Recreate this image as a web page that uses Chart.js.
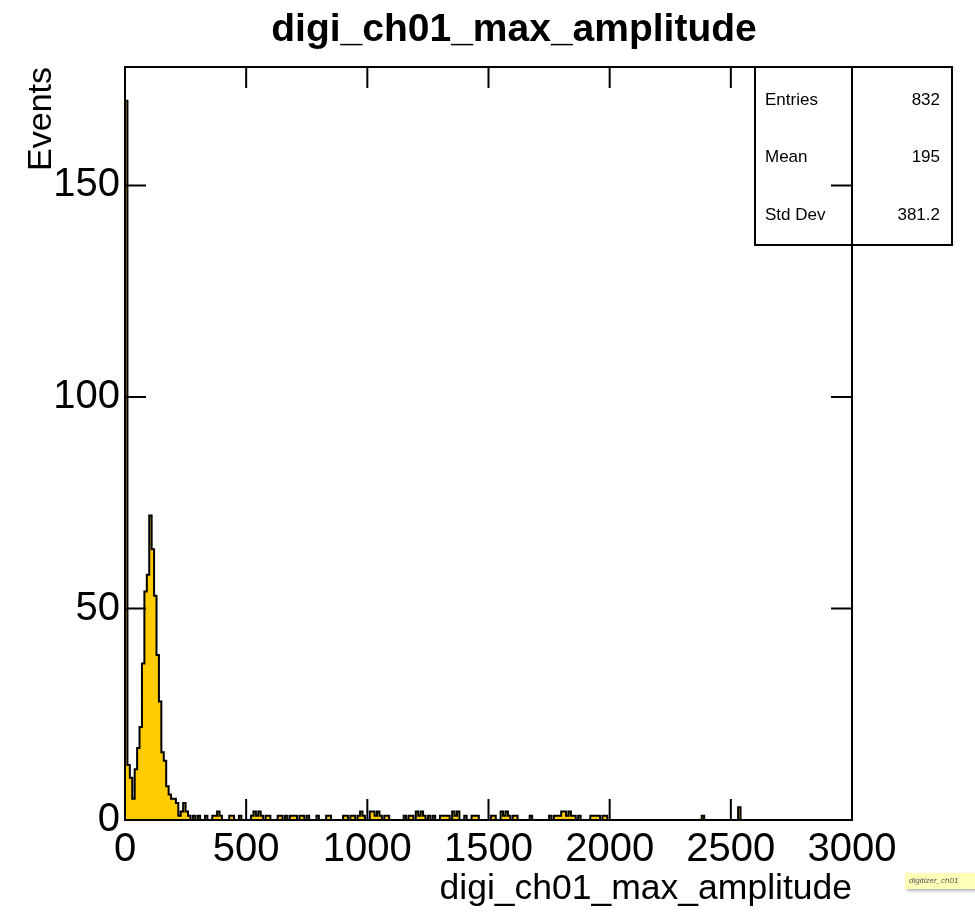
<!DOCTYPE html>
<html>
<head>
<meta charset="utf-8">
<title>digi_ch01_max_amplitude</title>
<script src="https://cdn.jsdelivr.net/npm/chart.js@4.4.1/dist/chart.umd.min.js"></script>
<style>
    html, body {
        margin: 0;
        padding: 0;
        background: #ffffff;
    }

    #wrap {
        position: relative;
        width: 975px;
        height: 914px;
    }

    #note {
        position: absolute;
        left: 905px;
        top: 873px;
        width: 70px;
        height: 16px;
        overflow: hidden;
        white-space: nowrap;
        background: #ffffb8;
        box-shadow: 2px 2px 3px rgba(0, 0, 0, 0.3);
        font: italic 8px "Liberation Sans", sans-serif;
        line-height: 16px;
        padding-left: 4px;
        box-sizing: border-box;
        color: #555;
    }
</style>
</head>
<body>

<div id="wrap">
    <canvas id="histChart" width="975" height="914"></canvas>
    <div id="note">digitizer_ch01</div>
</div>

<script>
// ===============================
// DATA
// ===============================

const chartTitle = "digi_ch01_max_amplitude";

const xAxisTitle = "digi_ch01_max_amplitude";

const yAxisTitle = "Events";

const binWidth = 10;

// events per bin, bins of 10 from 0 to 3000
const counts = [
    170, 13, 10, 5, 12, 17, 22, 37, 54, 58, 72, 64, 53, 39, 28, 16, 14, 8, 6, 5,
    5, 4, 1, 2, 4, 2, 1, 0, 1, 0, 1, 0, 0, 1, 0, 0, 1, 1, 2, 1,
    0, 0, 0, 1, 1, 0, 0, 1, 0, 0, 0, 0, 1, 2, 1, 2, 1, 0, 1, 1,
    0, 0, 0, 1, 1, 0, 1, 0, 1, 1, 1, 0, 1, 1, 0, 1, 0, 0, 0, 1,
    0, 0, 0, 1, 1, 0, 0, 0, 0, 0, 1, 1, 0, 1, 1, 0, 1, 2, 1, 0,
    0, 2, 2, 1, 2, 1, 0, 1, 1, 0, 0, 0, 0, 0, 0, 1, 0, 1, 1, 0,
    2, 1, 2, 1, 0, 1, 0, 1, 0, 0, 1, 1, 1, 1, 0, 2, 1, 2, 0, 0,
    1, 0, 0, 1, 1, 1, 0, 0, 0, 0, 0, 1, 1, 0, 0, 2, 1, 2, 1, 0,
    1, 1, 0, 0, 0, 0, 0, 1, 0, 0, 0, 0, 0, 0, 0, 1, 0, 1, 1, 1,
    2, 2, 1, 2, 1, 1, 0, 1, 0, 0, 0, 0, 1, 1, 1, 1, 0, 1, 1, 0,
    0, 0, 0, 0, 0, 0, 0, 0, 0, 0, 0, 0, 0, 0, 0, 0, 0, 0, 0, 0,
    0, 0, 0, 0, 0, 0, 0, 0, 0, 0, 0, 0, 0, 0, 0, 0, 0, 0, 1, 0,
    0, 0, 0, 0, 0, 0, 0, 0, 0, 0, 0, 0, 0, 3, 0, 0, 0, 0, 0, 0,
    0, 0, 0, 0, 0, 0, 0, 0, 0, 0, 0, 0, 0, 0, 0, 0, 0, 0, 0, 0,
    0, 0, 0, 0, 0, 0, 0, 0, 0, 0, 0, 0, 0, 0, 0, 0, 0, 0, 0, 0
];

const xTicks = [0, 500, 1000, 1500, 2000, 2500, 3000];

const yTicks = [0, 50, 100, 150];

const xMin = 0;
const xMax = 3000;
const yMax = 178;

const statLabels = ["Entries", "Mean", "Std Dev"];

const statValues = ["832", "195", "381.2"];

const FONT = "'Liberation Sans', Arial, Helvetica, sans-serif";

// =================================
// HISTOGRAM OUTLINE POINTS
// =================================

function buildSteps() {

    // left edge of each bin, stepped 'before' keeps the value to the next edge
    let points = [{ x: xMin, y: 0 }];

    counts.forEach((c, i) => {
        points.push({ x: xMin + i * binWidth, y: c });
    });

    points.push({ x: xMin + counts.length * binWidth, y: 0 });

    return points;
}

// =================================
// FRAME, TICKS, TITLE, STATS BOX
// =================================

const rootDecor = {

    id: "rootDecor",

    afterDatasetsDraw(chart) {

        const ctx = chart.ctx;
        const area = chart.chartArea;
        const xs = chart.scales.x;
        const ys = chart.scales.y;

        ctx.save();

        // stats box
        const boxL = area.right - 97;
        const boxR = area.right + 100;
        const boxT = area.top;
        const boxB = area.top + 178;

        ctx.fillStyle = "#ffffff";
        ctx.fillRect(boxL, boxT, boxR - boxL, boxB - boxT);

        ctx.fillStyle = "#000000";
        ctx.font = "17px " + FONT;
        ctx.textBaseline = "middle";

        statLabels.forEach((label, i) => {

            const y = boxT + 33 + i * 57.5;

            ctx.textAlign = "left";
            ctx.fillText(label, boxL + 10, y);

            ctx.textAlign = "right";
            ctx.fillText(statValues[i], boxR - 12, y);
        });

        // frame
        ctx.strokeStyle = "#000000";
        ctx.lineWidth = 2;
        ctx.strokeRect(area.left, area.top, area.right - area.left, area.bottom - area.top);

        // inward tick marks on all four sides
        const tl = 21;

        ctx.beginPath();

        xTicks.forEach(v => {
            const px = xs.getPixelForValue(v);
            ctx.moveTo(px, area.bottom);
            ctx.lineTo(px, area.bottom - tl);
            ctx.moveTo(px, area.top);
            ctx.lineTo(px, area.top + tl);
        });

        yTicks.forEach(v => {
            const py = ys.getPixelForValue(v);
            ctx.moveTo(area.left, py);
            ctx.lineTo(area.left + tl, py);
            ctx.moveTo(area.right, py);
            ctx.lineTo(area.right - tl, py);
        });

        ctx.stroke();

        ctx.lineWidth = 2;
        ctx.strokeRect(boxL, boxT, boxR - boxL, boxB - boxT);

        // title
        ctx.font = "bold 39px " + FONT;
        ctx.textAlign = "center";
        ctx.textBaseline = "middle";
        ctx.fillText(chartTitle, 514, 30);

        ctx.restore();
    }
};

// =================================
// CHART
// =================================

window.onload = function () {

    const canvas = document.getElementById("histChart");

    new Chart(canvas, {

        type: "line",

        data: {

            datasets: [{

                label: chartTitle,

                data: buildSteps(),

                stepped: "before",

                borderColor: "#000000",

                borderWidth: 2,

                backgroundColor: "#ffcc00",

                fill: "origin",

                pointRadius: 0,

                tension: 0
            }]
        },

        options: {

            responsive: false,

            animation: false,

            layout: {
                padding: { top: 67, right: 123, left: 0, bottom: 0 }
            },

            plugins: {
                legend: { display: false },
                tooltip: { enabled: false },
                title: { display: false }
            },

            scales: {

                x: {
                    type: "linear",
                    min: xMin,
                    max: xMax,
                    grid: { display: false, drawTicks: false },
                    border: { display: false },
                    afterBuildTicks: scale => {
                        scale.ticks = xTicks.map(v => ({ value: v }));
                    },
                    afterFit: scale => {
                        scale.height = 94;
                    },
                    ticks: {
                        color: "#000000",
                        font: { family: FONT, size: 40 },
                        padding: 6,
                        maxRotation: 0,
                        autoSkip: false,
                        callback: v => String(v)
                    },
                    title: {
                        display: true,
                        text: xAxisTitle,
                        align: "end",
                        color: "#000000",
                        font: { family: FONT, size: 35.5 },
                        padding: { top: 0, bottom: 3 }
                    }
                },

                y: {
                    type: "linear",
                    min: 0,
                    max: yMax,
                    grid: { display: false, drawTicks: false },
                    border: { display: false },
                    afterBuildTicks: scale => {
                        scale.ticks = yTicks.map(v => ({ value: v }));
                    },
                    afterFit: scale => {
                        scale.width = 125;
                    },
                    ticks: {
                        color: "#000000",
                        font: { family: FONT, size: 40 },
                        padding: 5,
                        callback: v => String(v)
                    },
                    title: {
                        display: true,
                        text: yAxisTitle,
                        align: "end",
                        color: "#000000",
                        font: { family: FONT, size: 34 },
                        padding: { top: 21, bottom: 0 }
                    }
                }
            }
        },

        plugins: [rootDecor]
    });
};
</script>

</body>
</html>
